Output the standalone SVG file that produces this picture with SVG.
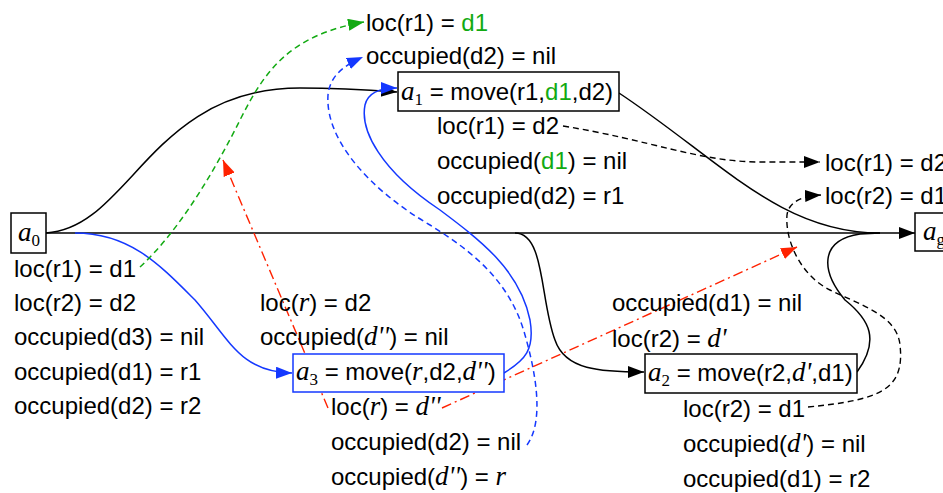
<svg xmlns="http://www.w3.org/2000/svg" width="943" height="493" viewBox="0 0 943 493">
<style>
.t{font-family:"Liberation Sans",Arial,sans-serif;font-size:24px;fill:#000}
.m{font-family:"Liberation Serif","Times New Roman",serif;font-style:italic;font-size:27px}
.s{font-family:"Liberation Serif","Times New Roman",serif;font-style:normal;font-size:17px}
.g{fill:#12aa12}
.box{fill:#fff;stroke:#000;stroke-width:1.5}
.bbox{fill:#fff;stroke:#1438ff;stroke-width:1.5}
.k{fill:none;stroke:#000;stroke-width:1.5}
.kd{fill:none;stroke:#000;stroke-width:1.4;stroke-dasharray:6 4}
.b{fill:none;stroke:#1438ff;stroke-width:1.5}
.bd{fill:none;stroke:#1438ff;stroke-width:1.5;stroke-dasharray:6 4}
.gd{fill:none;stroke:#12aa12;stroke-width:1.5;stroke-dasharray:6 4}
.rd{fill:none;stroke:#ff2200;stroke-width:1.4;stroke-dasharray:10 4 2 4}
</style>
<defs>
<marker id="ak" markerUnits="userSpaceOnUse" markerWidth="18" markerHeight="14" refX="16" refY="6" orient="auto"><path d="M0,0 L16,6 L0,12 Z" fill="#000"/></marker>
<marker id="ab" markerUnits="userSpaceOnUse" markerWidth="18" markerHeight="14" refX="16" refY="6" orient="auto"><path d="M0,0 L16,6 L0,12 Z" fill="#1438ff"/></marker>
<marker id="ag" markerUnits="userSpaceOnUse" markerWidth="18" markerHeight="14" refX="16" refY="6" orient="auto"><path d="M0,0 L16,6 L0,12 Z" fill="#12aa12"/></marker>
<marker id="ar" markerUnits="userSpaceOnUse" markerWidth="18" markerHeight="14" refX="16" refY="6" orient="auto"><path d="M0,0 L16,6 L0,12 Z" fill="#ff2200"/></marker>
</defs>

<g id="connectors">
<path class="k" d="M46,233 L915,233" marker-end="url(#ak)"/>
<path class="k" d="M46,233 C130,228 150,88 300,88 C340,88 370,90 397,92" marker-end="url(#ak)"/>
<path class="k" d="M619,93 C720,160 780,233 880,233"/>
<path class="k" d="M515,233 C545,233 540,300 555,340 C565,370 600,372 644,372" marker-end="url(#ak)"/>
<path class="k" d="M857,372 C880,340 870,320 845,300 C820,270 820,240 860,234 L880,233"/>
<path class="b" d="M75,233 C130,233 160,265 195,300 C230,340 240,372 292,373" marker-end="url(#ab)"/>
<path class="b" d="M504,373 C525,360 535,350 530,320 C520,270 480,240 440,210 C380,170 360,130 365,105 C368,92 380,88 397,88" marker-end="url(#ab)"/>
<path class="bd" d="M527,445 C545,420 535,370 525,335 C510,280 470,250 430,225 C370,190 325,140 328,95 C330,75 345,65 363,57" marker-end="url(#ab)"/>
<path class="gd" d="M140,267 C180,230 215,170 240,120 C265,70 290,35 364,22" marker-end="url(#ag)"/>
<path class="rd" d="M442,408 L797,247" marker-end="url(#ar)"/>
<path class="rd" d="M328,408 L223,160" marker-end="url(#ar)"/>
<path class="kd" d="M563,126 C650,140 700,162 760,162 L820,162" marker-end="url(#ak)"/>
<path class="kd" d="M808,407 C880,400 905,390 900,345 C897,315 860,305 830,290 C800,275 785,240 787,215 C789,200 805,196 821,195" marker-end="url(#ak)"/>
</g>

<g id="a0">
<rect class="box" x="11" y="213" width="35" height="40"/>
<text class="m" x="18" y="241">a<tspan class="s" dy="5">0</tspan></text>
</g>
<g id="a0-state">
<text class="t" x="14" y="277">loc(r1) = d1</text>
<text class="t" x="14" y="311">loc(r2) = d2</text>
<text class="t" x="14" y="345">occupied(d3) = nil</text>
<text class="t" x="14" y="380">occupied(d1) = r1</text>
<text class="t" x="14" y="414">occupied(d2) = r2</text>
</g>

<g id="a1-pre">
<text class="t" x="366" y="31">loc(r1) = <tspan class="g">d1</tspan></text>
<text class="t" x="366" y="64">occupied(d2) = nil</text>
</g>
<g id="a1">
<rect class="box" x="398" y="72" width="221" height="39"/>
<text class="t" x="401" y="100"><tspan class="m">a</tspan><tspan class="s" dy="5">1</tspan><tspan dy="-5"> = move(r1,</tspan><tspan class="g">d1</tspan>,d2)</text>
</g>
<g id="a1-eff">
<text class="t" x="437" y="134">loc(r1) = d2</text>
<text class="t" x="437" y="169">occupied(<tspan class="g">d1</tspan>) = nil</text>
<text class="t" x="437" y="204">occupied(d2) = r1</text>
</g>

<g id="ag-pre">
<text class="t" x="825" y="171">loc(r1) = d2</text>
<text class="t" x="825" y="204">loc(r2) = d1</text>
</g>
<g id="ag">
<rect class="box" x="915" y="213" width="40" height="38"/>
<text class="m" x="923" y="240">a<tspan class="s" dy="5">g</tspan></text>
</g>

<g id="a3-pre">
<text class="t" x="260" y="311">loc(<tspan class="m">r</tspan>) = d2</text>
<text class="t" x="260" y="345">occupied(<tspan class="m">d''</tspan>) = nil</text>
</g>
<g id="a3">
<rect class="bbox" x="293" y="354" width="211" height="38"/>
<text class="t" x="296" y="380"><tspan class="m">a</tspan><tspan class="s" dy="5">3</tspan><tspan dy="-5"> = move(</tspan><tspan class="m">r</tspan>,d2,<tspan class="m">d''</tspan>)</text>
</g>
<g id="a3-eff">
<text class="t" x="331" y="415">loc(<tspan class="m">r</tspan>) = <tspan class="m">d''</tspan></text>
<text class="t" x="331" y="450">occupied(d2) = nil</text>
<text class="t" x="331" y="485">occupied(<tspan class="m">d''</tspan>) = <tspan class="m">r</tspan></text>
</g>

<g id="a2-pre">
<text class="t" x="612" y="311">occupied(d1) = nil</text>
<text class="t" x="612" y="347">loc(r2) = <tspan class="m">d'</tspan></text>
</g>
<g id="a2">
<rect class="box" x="645" y="354" width="212" height="39"/>
<text class="t" x="648" y="381"><tspan class="m">a</tspan><tspan class="s" dy="5">2</tspan><tspan dy="-5"> = move(r2,</tspan><tspan class="m">d'</tspan>,d1)</text>
</g>
<g id="a2-eff">
<text class="t" x="683" y="417">loc(r2) = d1</text>
<text class="t" x="683" y="452">occupied(<tspan class="m">d'</tspan>) = nil</text>
<text class="t" x="683" y="487">occupied(d1) = r2</text>
</g>
</svg>
